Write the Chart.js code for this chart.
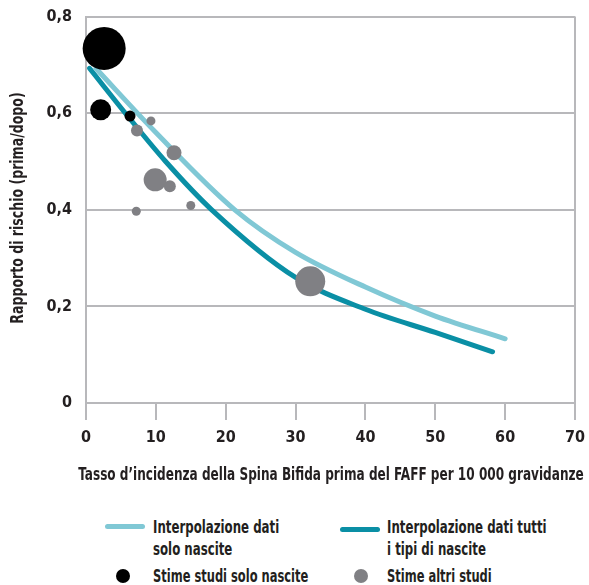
<!DOCTYPE html>
<html>
<head>
<meta charset="utf-8">
<script src="https://cdn.jsdelivr.net/npm/chart.js@4.4.1/dist/chart.umd.min.js"></script>
<style>
  html, body { margin: 0; padding: 0; background: #fff; }
  #wrap { position: relative; width: 589px; height: 585px; overflow: hidden; font-family: 'DejaVu Sans Condensed', sans-serif; font-weight: bold; color: #231f20; }
  #chart { position: absolute; left: 0; top: -7px; }
  .txt { position: absolute; font-size: 17px; line-height: 22px; white-space: nowrap; transform-origin: left center; transform: scaleX(0.77); }
  .swatch { position: absolute; height: 5px; border-radius: 3px; }
  .dot { position: absolute; width: 14px; height: 14px; border-radius: 50%; }
</style>
</head>
<body>
<div id="wrap">
  <canvas id="chart" width="593" height="497"></canvas>
  <div class="txt" style="left:-69px; width:800px; top:463px; text-align:center; transform-origin:center center; transform:scaleX(0.79);">Tasso d’incidenza della Spina Bifida prima del FAFF per 10 000 gravidanze</div>
  <div class="txt" style="left:-183px; width:400px; top:197px; text-align:center; transform-origin:center center; transform:rotate(-90deg) scaleX(0.82);">Rapporto di rischio (prima/dopo)</div>

  <div class="swatch" style="left:105px; top:524px; width:40px; background:#80c8d5;"></div>
  <div class="txt" style="left:153px; top:516px;">Interpolazione dati<br>solo nascite</div>
  <div class="swatch" style="left:340px; top:527px; width:40px; background:#0a8fa5;"></div>
  <div class="txt" style="left:387px; top:516px;">Interpolazione dati tutti<br>i tipi di nascite</div>

  <div class="dot" style="left:116px; top:569px; background:#000;"></div>
  <div class="txt" style="left:153px; top:565px; transform:scaleX(0.75);">Stime studi solo nascite</div>
  <div class="dot" style="left:354px; top:569px; background:#808084;"></div>
  <div class="txt" style="left:387px; top:565px; transform:scaleX(0.75);">Stime altri studi</div>
</div>
<script>
// --- dati ---
const soloX = [2.6, 2.1, 6.3];
const soloY = [0.734, 0.607, 0.594];
const soloR = [21.5, 10.5, 5.5];

const altriX = [9.3, 7.3, 12.6, 9.9, 12.0, 7.2, 15.0, 32.1];
const altriY = [0.584, 0.564, 0.518, 0.462, 0.449, 0.397, 0.409, 0.252];
const altriR = [4.5, 6, 7.5, 11.5, 6, 4.5, 4.5, 15];

const fitSoloX = [1.4, 10, 21.3, 30, 40, 50, 60];
const fitSoloY = [0.693, 0.56, 0.40, 0.312, 0.24, 0.18, 0.133];

const fitTuttiX = [0.5, 6.2, 11.4, 18, 30, 40, 50, 58.2];
const fitTuttiY = [0.693, 0.59, 0.50, 0.40, 0.26, 0.194, 0.146, 0.106];

const yTicks = [0, 0.2, 0.4, 0.6, 0.8];
const xTicks = [0, 10, 20, 30, 40, 50, 60, 70];

const pts = (xs, ys, rs) => xs.map((x, i) => rs ? { x, y: ys[i], r: rs[i] } : { x, y: ys[i] });

const GRID = '#b8b8bb';
Chart.defaults.font.family = "'DejaVu Sans Condensed', sans-serif";
Chart.defaults.font.weight = 'bold';
Chart.defaults.color = '#231f20';

const ctx = document.getElementById('chart').getContext('2d');
new Chart(ctx, {
    type: 'bubble',
    data: {
        datasets: [
            { label: 'Stime studi solo nascite', data: pts(soloX, soloY, soloR), backgroundColor: '#000', borderWidth: 0, clip: false, order: 1 },
            { label: 'Stime altri studi', data: pts(altriX, altriY, altriR), backgroundColor: '#808084', borderWidth: 0, clip: false, order: 1 },
            { type: 'line', label: 'Interpolazione dati tutti i tipi di nascite', data: pts(fitTuttiX, fitTuttiY), borderColor: '#0a8fa5', borderWidth: 5, pointRadius: 0, borderCapStyle: 'round', cubicInterpolationMode: 'monotone', clip: false, order: 3 },
            { type: 'line', label: 'Interpolazione dati solo nascite', data: pts(fitSoloX, fitSoloY), borderColor: '#80c8d5', borderWidth: 5, pointRadius: 0, borderCapStyle: 'round', cubicInterpolationMode: 'monotone', clip: false, order: 2 }
        ]
    },
    options: {
        responsive: false,
        animation: false,
        layout: { autoPadding: false, padding: { top: 8, right: 9, left: 0, bottom: 0 } },
        plugins: { legend: { display: false }, tooltip: { enabled: false } },
        scales: {
            x: {
                type: 'linear', min: 0, max: 70,
                afterBuildTicks: s => { s.ticks = xTicks.map(v => ({ value: v })); },
                afterFit: s => { s.height = 87; },
                border: { display: true, color: GRID, width: 2 },
                grid: {
                    color: c => c.index === xTicks.length - 1 ? GRID : 'rgba(0,0,0,0)',
                    tickColor: GRID, lineWidth: 2, tickLength: 17
                },
                ticks: { font: { size: 16 }, padding: 8, maxRotation: 0 }
            },
            y: {
                min: 0, max: 0.8,
                afterBuildTicks: s => { s.ticks = yTicks.map(v => ({ value: v })); },
                afterFit: s => { s.width = 86; },
                border: { display: true, color: GRID, width: 2 },
                grid: { color: GRID, lineWidth: 2, drawTicks: false },
                ticks: { font: { size: 16 }, padding: 14, callback: v => v === 0 ? '0' : v.toFixed(1).replace('.', ',') }
            }
        }
    }
});
</script>
</body>
</html>
